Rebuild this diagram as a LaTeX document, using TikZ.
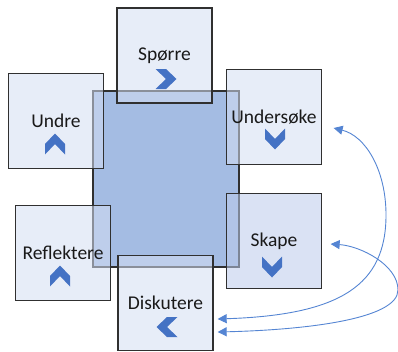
\documentclass[tikz,border=0pt]{standalone}
\usepackage{fontspec}
\setmainfont{Carlito}
\usetikzlibrary{arrows.meta}
\definecolor{boxfill}{HTML}{D4DEF2}
\definecolor{skapefill}{HTML}{BCCBEB}
\definecolor{midtfill}{HTML}{A4BCE3}
\definecolor{boxline}{HTML}{303030}
\definecolor{chevblue}{HTML}{4472C4}
\definecolor{curveblue}{HTML}{5585D3}
\begin{document}
\begin{tikzpicture}
[x=1pt,y=-1pt,
  middecorate/.style={draw=boxline,line width=1.3pt,fill=midtfill},%
  boxdecorate/.style={shape=rectangle,draw=boxline,line width=1.3pt,fill opacity=0.55,text opacity=1,text=black!90,inner sep=0pt,minimum width=95pt,minimum height=95pt,font=\fontsize{19.5}{23}\selectfont},%
  chevdecorate/.style={fill=chevblue},%
  linedecorate/.style={{Triangle[length=9pt,width=9pt]}-{Triangle[length=9pt,width=9pt]},draw=curveblue,fill=none,line width=0.9pt}]
\useasboundingbox (0,0) rectangle (398,351);
%% middle rectangle
\draw[middecorate] (93,91) rectangle (239,267);
%% boxes
\foreach \nodename/\x/\y/\txt/\fillname in {spoerre/164.5/55.5/Spørre/boxfill, undre/56/121/Undre/boxfill,
  undersoeke/274/117/Undersøke/boxfill, skape/274/241/Skape/skapefill,
  reflektere/63/253/Reflektere/boxfill, diskutere/165.5/303/Diskutere/boxfill} {
  \node (\nodename) at (\x,\y) [boxdecorate,fill=\fillname] {\txt};
}
%% chevrons
\foreach \x/\y/\angle in {166/79/0, 55/144/90, 275/139/-90, 272/267/-90, 60/276/90, 167/327/180} {
  \fill[chevdecorate,shift={(\x,\y)},rotate=\angle] (-10.5,-10) -- (0,-10) -- (10.5,0) -- (0,10) -- (-10.5,10) -- (0,0) -- cycle;
}
%% curved arrows
\draw[linedecorate] ([shift={(11.5,11)}]undersoeke.east) .. controls +(32,8) and +(0,-45) .. (386,215)
  .. controls +(0,70) and +(123,-4) .. ([shift={(4,16)}]diskutere.east);
\draw[linedecorate] ([shift={(8.5,3)}]skape.east) .. controls +(30,2) and +(0,-25) .. (398,290)
  .. controls +(0,30) and +(83,-2) .. ([shift={(4,29)}]diskutere.east);
\end{tikzpicture}
\end{document}
